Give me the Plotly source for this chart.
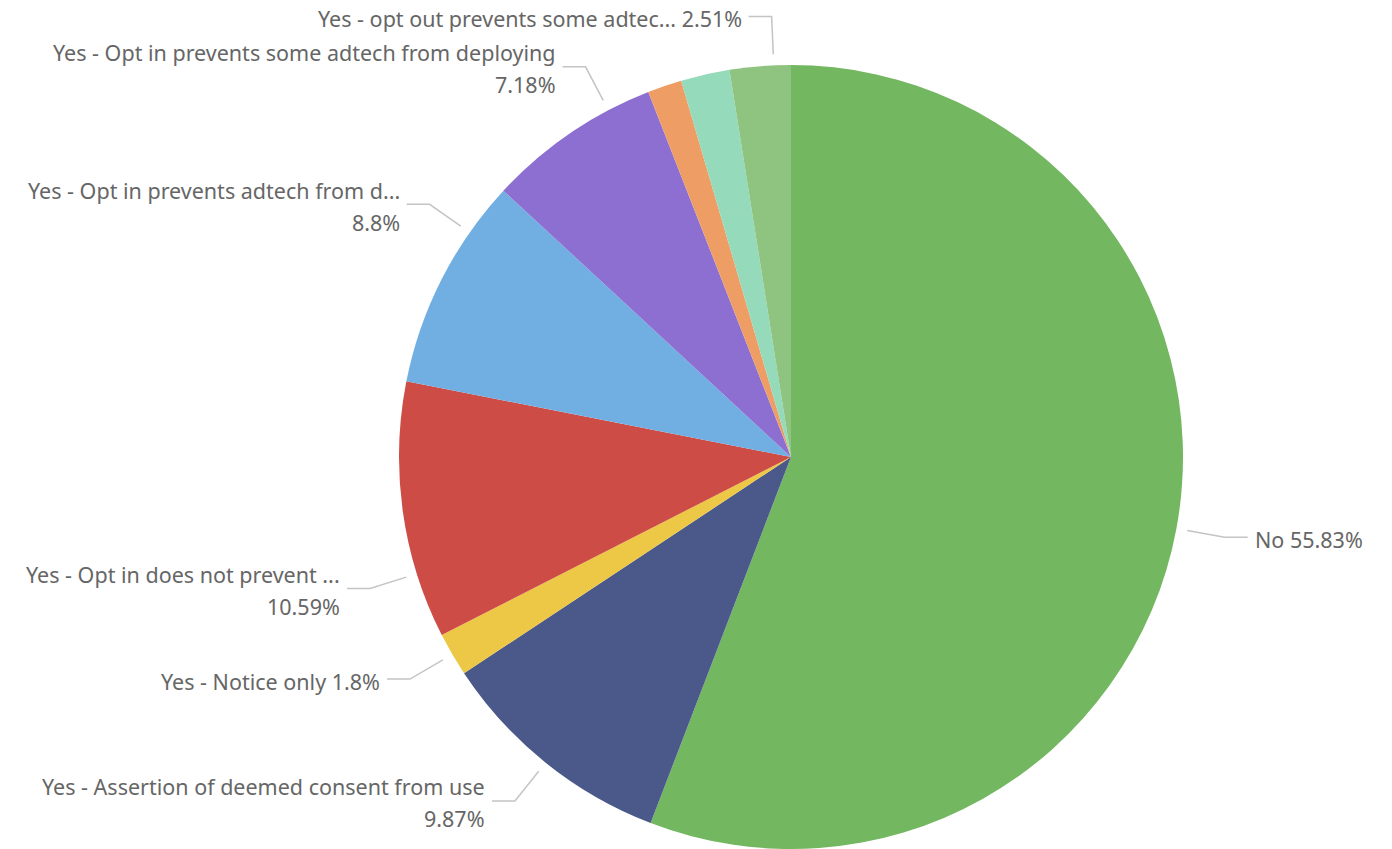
import math
import plotly.graph_objects as go

# ---------------- data ----------------
categories = [
    "No",
    "Yes - Assertion of deemed consent from use",
    "Yes - Notice only",
    "Yes - Opt in does not prevent adtech from deploying",
    "Yes - Opt in prevents adtech from deploying",
    "Yes - Opt in prevents some adtech from deploying",
    "Yes - Opt out does not prevent adtech from deploying",
    "Yes - Opt out prevents adtech from deploying",
    "Yes - opt out prevents some adtech from deploying",
]
values = [55.83, 9.87, 1.80, 10.59, 8.80, 7.18, 1.41, 2.01, 2.51]
display_names = [
    "No",
    "Yes - Assertion of deemed consent from use",
    "Yes - Notice only",
    "Yes - Opt in does not prevent ...",
    "Yes - Opt in prevents adtech from d...",
    "Yes - Opt in prevents some adtech from deploying",
    None,
    None,
    "Yes - opt out prevents some adtec...",
]
colors = ["#73B761", "#4A588A", "#ECC846", "#CD4C46", "#71AFE2",
          "#8D6FD1", "#EE9E64", "#95DABB", "#8FC380"]

# ---------------- layout settings ----------------
W, H = 1392, 849
R = 392
CX, CY = 791, H - R            # pie centre in pixels (from top-left)
# per-label: (angle offset from slice middle in degrees, two-line label?)
label_layout = [(0, False), (0, True), (0, False), (-9.4, True), (8.0, True),
                (6.5, True), None, None, (2.0, False)]
ANCHOR_GAP, ELBOW_GAP, HLEN, TEXT_GAP = 11, 49, 23, 5
LINE_SEP = 16
FONT = dict(family="Segoe UI, Noto Sans, Open Sans, sans-serif", size=21.5, color="#666666")
LINE_COLOR = "#C4C4C4"


def px(x):
    return x / W


def py(y):
    return 1 - y / H


def fmt_pct(v):
    s = f"{v:.2f}".rstrip("0").rstrip(".")
    return s + "%"


fig = go.Figure(go.Pie(
    labels=categories,
    values=values,
    sort=False,
    direction="clockwise",
    rotation=0,
    marker=dict(colors=colors, line=dict(width=0)),
    textinfo="none",
    hoverinfo="label+percent",
    domain=dict(x=[(CX - R) / W, (CX + R) / W], y=[0, 2 * R / H]),
    showlegend=False,
))

total = sum(values)
shapes, annotations = [], []
cum = 0.0
for i, v in enumerate(values):
    frac = v / total
    mid = (cum + frac / 2) * 360
    cum += frac
    lay = label_layout[i]
    if lay is None or display_names[i] is None:
        continue
    off, two = lay
    ang = math.radians(mid + off)
    sx, sy = math.sin(ang), -math.cos(ang)
    ax, ay = CX + (R + ANCHOR_GAP) * sx, CY + (R + ANCHOR_GAP) * sy
    ex, ey = CX + (R + ELBOW_GAP) * sx, CY + (R + ELBOW_GAP) * sy
    right = sx > 0.001
    side = 1 if right else -1
    hx = ex + side * HLEN
    shapes.append(dict(
        type="path", xref="paper", yref="paper",
        path=f"M {px(ax)},{py(ay)} L {px(ex)},{py(ey)} L {px(hx)},{py(ey)}",
        line=dict(color=LINE_COLOR, width=1.5),
    ))
    tx = hx + side * TEXT_GAP
    pct = fmt_pct(v / total * 100)
    if two:
        lines = [display_names[i], pct]
        ys = [ey + 2 - LINE_SEP, ey + 2 + LINE_SEP]
    else:
        lines = [f"{display_names[i]} {pct}"]
        ys = [ey + 2]
    for t, yy in zip(lines, ys):
        annotations.append(dict(
            x=px(tx), y=py(yy), xref="paper", yref="paper",
            text=t, showarrow=False, font=FONT,
            xanchor="left" if right else "right", yanchor="middle",
            align="left" if right else "right",
        ))

fig.update_layout(
    width=W, height=H,
    margin=dict(l=0, r=0, t=0, b=0),
    paper_bgcolor="white",
    plot_bgcolor="white",
    shapes=shapes,
    annotations=annotations,
)

fig.write_html("out.html")
